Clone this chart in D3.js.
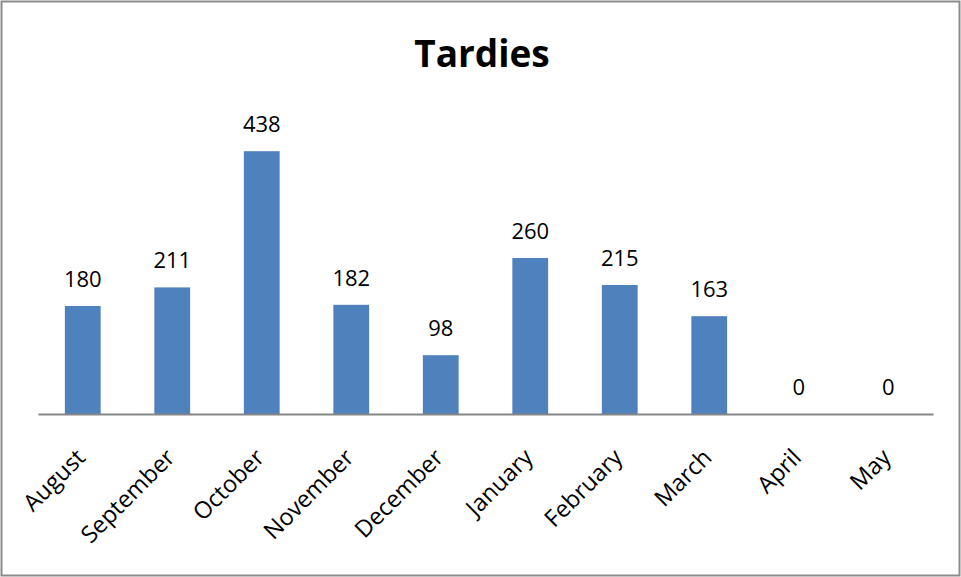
<!DOCTYPE html>
<html><head><meta charset="utf-8">
<script src="https://cdn.jsdelivr.net/npm/d3@7"></script>
<style>
html,body{margin:0;padding:0;background:#fff;}
svg{display:block;}
</style></head>
<body>
<script>
const categories = ["August","September","October","November","December","January","February","March","April","May"];
const tardies = [180,211,438,182,98,260,215,163,0,0];
const title = "Tardies";

const W = 961, H = 577;
const svg = d3.select("body").append("svg").attr("width", W).attr("height", H);
const font = "'Open Sans', sans-serif";

svg.append("rect").attr("x",1.5).attr("y",1.5).attr("width",W-3).attr("height",H-3)
  .attr("fill","#fff").attr("stroke","#8c8c8c").attr("stroke-width",2);

const x = d3.scaleBand().domain(categories).range([38,933]).paddingInner(0.6).paddingOuter(0.3);
const y = d3.scaleLinear().domain([0,500]).range([414,114]);

svg.append("text").attr("x",482).attr("y",67).attr("text-anchor","middle")
  .attr("font-family",font).attr("font-weight","bold").attr("font-size",37).attr("fill","#000").text(title);

svg.selectAll("rect.bar").data(categories).enter().append("rect").attr("class","bar")
  .attr("x",d=>x(d)).attr("width",x.bandwidth())
  .attr("y",(d,i)=>y(tardies[i])).attr("height",(d,i)=>y(0)-y(tardies[i]))
  .attr("fill","#4F81BD");

svg.selectAll("text.val").data(categories).enter().append("text").attr("class","val")
  .attr("x",d=>x(d)+x.bandwidth()/2).attr("y",(d,i)=>y(tardies[i])-19)
  .attr("text-anchor","middle").attr("font-family",font).attr("font-size",22).attr("fill","#000")
  .text((d,i)=>tardies[i]);

const axis = d3.axisBottom(x).tickSize(0).tickPadding(0);
const g = svg.append("g").attr("transform","translate(0,414)").call(axis);
g.select(".domain").attr("stroke","#868686").attr("stroke-width",2);
g.selectAll(".tick text")
  .attr("font-family",font).attr("font-size",23.5).attr("fill","#000")
  .attr("text-anchor","end").attr("dy",0)
  .attr("transform","translate(4,45) rotate(-45)");
</script>
</body></html>
